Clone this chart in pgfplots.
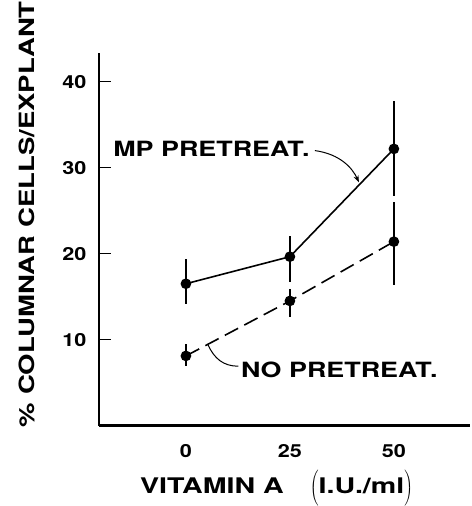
\documentclass[border=0pt]{standalone}
\usepackage{fontspec}
\setmainfont{TeX Gyre Heros}[FakeStretch=1.2]
\newfontfamily\widefont{TeX Gyre Heros}[FakeStretch=1.28]
\newfontfamily\xlabfont{TeX Gyre Heros}[FakeStretch=1.33]
\newfontfamily\ylabfont{TeX Gyre Heros}[FakeStretch=1.31]
\usepackage{pgfplots}
\pgfplotsset{compat=1.18}
\usetikzlibrary{arrows.meta}
\begin{document}
\begin{tikzpicture}
\begin{axis}[
  scale only axis, width=371pt, height=372pt,
  xmin=-20.9, xmax=68.3, ymin=0, ymax=43.3,
  axis x line*=bottom, axis y line*=left,
  axis line style={line width=2.5pt,-},
  clip=false,
  /pgf/number format/assume math mode=true,
  xtick={0,25,50}, ytick={10,20,30,40},
  tick align=inside,
  x tick style={draw=none},
  y tick style={line width=1.2pt, black},
  major tick length=12pt,
  yticklabel style={font=\fontsize{18}{18}\selectfont\bfseries, xshift=-9pt},
  xticklabel style={font=\fontsize{18}{18}\selectfont\bfseries, yshift=-15pt},
]
\addplot[black, line width=1.6pt, mark=*, mark size=4.5pt,
  error bars/.cd, y dir=both, y explicit, error mark=none,
  error bar style={line width=1.5pt, solid}]
  coordinates {(0,16.5) += (0,2.9) -= (0,2.4)
               (25,19.65) += (0,2.45) -= (0,2.95)
               (50,32.2) += (0,5.6) -= (0,5.5)};
\addplot[black, line width=1.6pt, dash pattern=on 15pt off 7pt, mark=*, mark size=4.5pt,
  mark options={solid},
  error bars/.cd, y dir=both, y explicit, error mark=none,
  error bar style={line width=1.5pt, solid}]
  coordinates {(0,8.1) += (0,1.4) -= (0,1.2)
               (25,14.5) += (0,1.4) -= (0,1.9)
               (50,21.4) += (0,4.6) -= (0,5.1)};
\node[anchor=west, inner sep=0pt, font=\widefont\fontsize{21}{21}\selectfont\bfseries] at (axis cs:-17.5,32.2) {MP PRETREAT.};
\draw[line width=1pt, -{Stealth[length=7pt,width=5pt]}] (axis cs:31,32.0) .. controls (axis cs:37,31.6) and (axis cs:40,30) .. (axis cs:41.6,28.3);
\node[anchor=west, inner sep=0pt, font=\widefont\fontsize{21}{21}\selectfont\bfseries] at (axis cs:13.2,6.5) {NO PRETREAT.};
\draw[line width=1pt] (axis cs:12.6,6.9) .. controls (axis cs:9,6.9) and (axis cs:6.8,7.8) .. (axis cs:5.3,9.4);
\node[rotate=90, anchor=base, inner sep=0pt, font=\ylabfont\fontsize{21}{21}\selectfont\bfseries] at (axis cs:-36.3,24.6) {\% COLUMNAR CELLS/EXPLANT};
\node[anchor=base, inner sep=0pt, font=\xlabfont\fontsize{21.5}{21.5}\selectfont\bfseries] at (axis cs:21.8,-7.87) {VITAMIN A\hspace{26pt}$\left(\vrule height 23pt depth 8pt width 0pt\mbox{I.U./ml}\right)$};
\path (axis cs:-20.9,0) ++(-99pt,-80.5pt) rectangle ++(471pt,506pt);
\end{axis}
\end{tikzpicture}
\end{document}
